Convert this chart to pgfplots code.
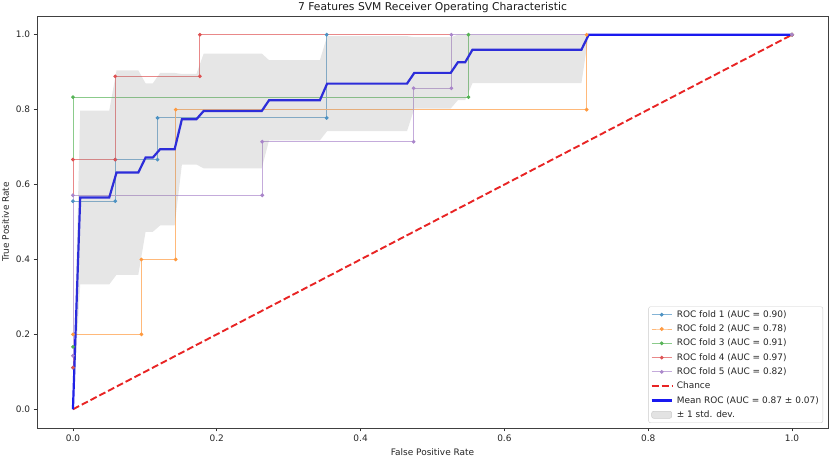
\documentclass[border=0pt]{standalone}
\usepackage{fontspec}
\setmainfont{DejaVu Sans}
\usepackage{pgfplots}
\pgfplotsset{compat=1.18}
\definecolor{c0}{HTML}{1F77B4}
\definecolor{c1}{HTML}{FF7F0E}
\definecolor{c2}{HTML}{2CA02C}
\definecolor{c3}{HTML}{D62728}
\definecolor{c4}{HTML}{9467BD}
\definecolor{meanblue}{RGB}{25,25,240}
\definecolor{chancered}{RGB}{232,36,36}
\begin{document}
\begin{tikzpicture}
\useasboundingbox (-37bp,-29bp) rectangle (794bp,428bp);
\begin{axis}[
  at={(0,0)}, anchor=south west,
  scale only axis, width=791bp, height=412bp,
  xmin=-0.05, xmax=1.05, ymin=-0.05, ymax=1.05,
  xtick={0,0.2,0.4,0.6,0.8,1.0},
  ytick={0,0.2,0.4,0.6,0.8,1.0},
  xticklabels={0.0,0.2,0.4,0.6,0.8,1.0},
  yticklabels={0.0,0.2,0.4,0.6,0.8,1.0},
  /pgf/number format/assume math mode=true,
  tick align=outside, major tick length=3.3bp,
  tick style={black!80, line width=0.7bp},
  xtick pos=bottom, ytick pos=left,
  axis line style={black!75, line width=0.75bp},
  tick label style={font=\fontsize{9}{11}\selectfont, text=black!85},
  label style={font=\fontsize{9}{11}\selectfont, text=black!85},
  xlabel={False Positive Rate},
  ylabel={True Positive Rate},
  title={7 Features SVM Receiver Operating Characteristic},
  title style={at={(0.5,1)}, anchor=base, yshift=0bp, font=\fontsize{10.8}{13}\selectfont, text=black!90},
  legend image code/.code={\draw[mark repeat=2,mark phase=2,#1] plot coordinates {(0bp,0bp) (10bp,0bp) (20bp,0bp)};},
  legend cell align=left,
  legend style={at={(1,0)}, anchor=south east, xshift=-5bp, yshift=5bp,
    font=\fontsize{9}{11}\selectfont, text=black!85,
    draw=black!20, rounded corners=2bp, fill=white, fill opacity=0.8, text opacity=1,
    inner sep=2bp, row sep=2.3bp, column sep=2bp,
    nodes={inner xsep=2bp, inner ysep=1.5bp, text height=7bp, text depth=2bp}},
]
% folds
\addplot[c0!55, line width=0.9bp, mark=*, mark size=1.4bp, mark options={draw=c0!80, fill=c0!80}] coordinates {
(0,0.1111) (0,0.5556) (0.0588,0.5556) (0.0588,0.6667) (0.1176,0.6667) (0.1176,0.7778) (0.3529,0.7778) (0.3529,1) (1,1)};
\addlegendentry{ROC fold 1 (AUC = 0.90)}
\addplot[c1!55, line width=0.9bp, mark=*, mark size=1.4bp, mark options={draw=c1!80, fill=c1!80}] coordinates {
(0,0.2) (0.0952,0.2) (0.0952,0.4) (0.1429,0.4) (0.1429,0.8) (0.7143,0.8) (0.7143,1) (1,1)};
\addlegendentry{ROC fold 2 (AUC = 0.78)}
\addplot[c2!55, line width=0.9bp, mark=*, mark size=1.4bp, mark options={draw=c2!80, fill=c2!80}] coordinates {
(0,0.1667) (0,0.8333) (0.55,0.8333) (0.55,1) (1,1)};
\addlegendentry{ROC fold 3 (AUC = 0.91)}
\addplot[c3!55, line width=0.9bp, mark=*, mark size=1.4bp, mark options={draw=c3!80, fill=c3!80}] coordinates {
(0,0.1111) (0,0.6667) (0.0588,0.6667) (0.0588,0.8889) (0.1765,0.8889) (0.1765,1) (1,1)};
\addlegendentry{ROC fold 4 (AUC = 0.97)}
\addplot[c4!55, line width=0.9bp, mark=*, mark size=1.4bp, mark options={draw=c4!80, fill=c4!80}] coordinates {
(0,0.1429) (0,0.5714) (0.2632,0.5714) (0.2632,0.7143) (0.4737,0.7143) (0.4737,0.8571) (0.5263,0.8571) (0.5263,1) (1,1)};
\addlegendentry{ROC fold 5 (AUC = 0.82)}
% chance
\addplot[chancered, line width=1.9bp, dash pattern=on 6.9bp off 3bp] coordinates {(0,0) (1,1)};
\addlegendentry{Chance}
% mean
\addplot[meanblue, line width=2.2bp] coordinates {
(0,0) (0.0101,0.5654) (0.0505,0.5654) (0.0606,0.6321) (0.0909,0.6321) (0.1010,0.6721) (0.1111,0.6721)
(0.1212,0.6943) (0.1414,0.6943) (0.1515,0.7743) (0.1717,0.7743) (0.1818,0.7965) (0.2626,0.7965)
(0.2727,0.8251) (0.3434,0.8251) (0.3535,0.8695) (0.4646,0.8695) (0.4747,0.8981) (0.5253,0.8981)
(0.5354,0.9267) (0.5455,0.9267) (0.5556,0.96) (0.7071,0.96) (0.7172,1) (1,1)};
\addlegendentry{Mean ROC (AUC = 0.87 ± 0.07)}
% std band
\addplot[draw=none, fill=gray, fill opacity=0.2,
  legend image code/.code={\filldraw[fill=gray!22, draw=gray!40, line width=0.5bp, fill opacity=1, draw opacity=1] (0bp,-3.5bp) rectangle (20bp,3.5bp);}] coordinates {
(0,0) (0.0101,0.7976) (0.0505,0.7976) (0.0606,0.9051) (0.0909,0.9051) (0.1010,0.8703) (0.1111,0.8703)
(0.1212,0.8979) (0.1414,0.8979) (0.1515,0.8952) (0.1717,0.8952) (0.1818,0.9496) (0.2626,0.9496)
(0.2727,0.9321) (0.3434,0.9321) (0.3535,0.9963) (0.4646,0.9963) (0.4747,0.9933) (0.5253,0.9933)
(0.5354,1) (1,1)
(0.7172,1) (0.7071,0.8706) (0.5556,0.8706) (0.5455,0.8256) (0.5354,0.8256) (0.5253,0.8029)
(0.4747,0.8029) (0.4646,0.7427) (0.3535,0.7427) (0.3434,0.7181) (0.2727,0.7181) (0.2626,0.6434)
(0.1818,0.6434) (0.1717,0.6534) (0.1515,0.6534) (0.1414,0.4907) (0.1212,0.4907) (0.1111,0.4739)
(0.1010,0.4739) (0.0909,0.3591) (0.0606,0.3591) (0.0505,0.3332) (0.0101,0.3332) (0,0)} -- cycle;
\addlegendentry{± 1 std. dev.}
\end{axis}
\end{tikzpicture}
\end{document}
